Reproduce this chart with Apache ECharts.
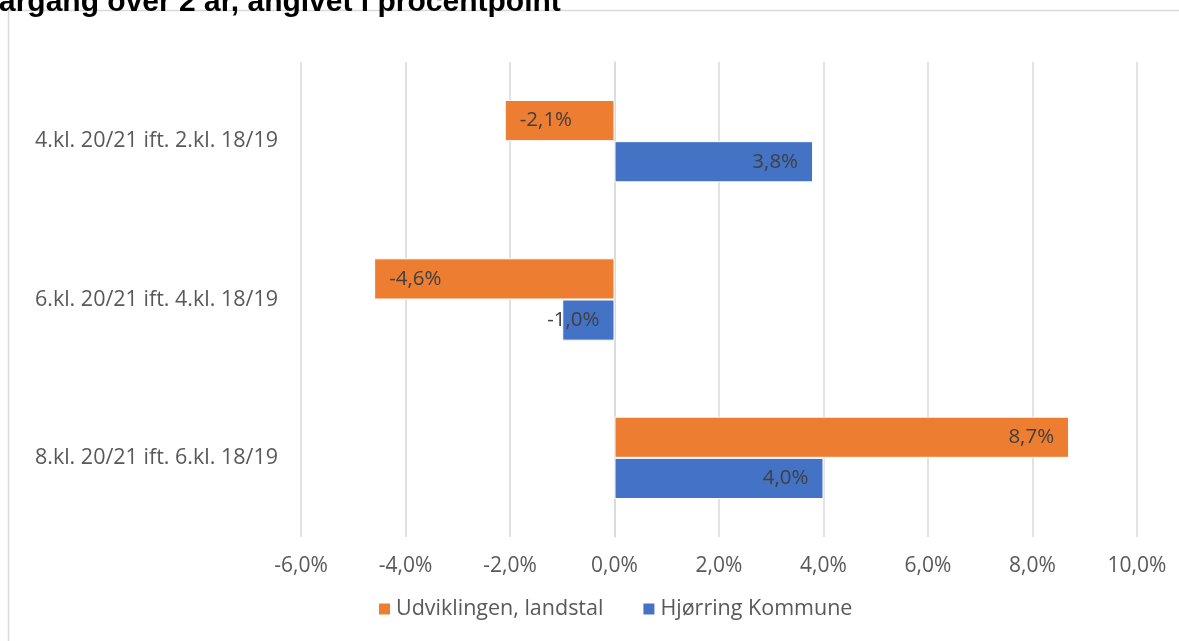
<!DOCTYPE html>
<html><head><meta charset="utf-8">
<script src="https://cdn.jsdelivr.net/npm/echarts@6/dist/echarts.min.js"></script>
<style>html,body{margin:0;padding:0;background:#fff}#c{width:1179px;height:641px}</style>
</head><body><div id="c"></div>
<script>
const titleText = 'årgang over 2 år, angivet i procentpoint';
const categories = ['4.kl. 20/21 ift. 2.kl. 18/19', '6.kl. 20/21 ift. 4.kl. 18/19', '8.kl. 20/21 ift. 6.kl. 18/19'];
const seriesNames = ['Udviklingen, landstal', 'Hjørring Kommune'];
const landstal = [-2.1, -4.6, 8.7];
const hjorring = [3.8, -1.0, 4.0];
const xTicks = { min: -6, max: 10, interval: 2 };

const fmt = v => v.toFixed(1).replace('.', ',') + '%';
const font = '"Open Sans", "Noto Sans", sans-serif';
function mk(vals) {
  return vals.map(v => {
    // Excel "inside end": for very short negative bars the label sits toward zero
    let pos = v < 0 ? 'insideLeft' : 'insideRight';
    if (v < 0 && Math.abs(v) < 1.5) pos = 'insideRight';
    return { value: v, label: { position: pos } };
  });
}
const lbl = { show: true, formatter: p => fmt(p.value), fontFamily: font, fontSize: 20.5, color: '#404040', distance: 15 };
const chart = echarts.init(document.getElementById('c'));
chart.setOption({
  animation: false,
  graphic: [
    { type: 'rect', shape: { x: 8.5, y: 10.5, width: 1300, height: 800 },
      style: { fill: 'none', stroke: '#d9d9d9', lineWidth: 1.5 }, z: -1 },
    { type: 'text', left: -1, top: -12,
      style: { text: titleText, font: 'bold 30px "Liberation Sans", Arial, sans-serif', fill: '#000' } }
  ],
  legend: {
    bottom: 16, left: 372, itemWidth: 13, itemHeight: 13, itemGap: 38,
    icon: 'rect',
    textStyle: { fontFamily: font, fontSize: 21.5, color: '#595959' },
    data: seriesNames
  },
  grid: { left: 301, right: 42, top: 62, bottom: 104 },
  xAxis: {
    type: 'value', min: xTicks.min, max: xTicks.max, interval: xTicks.interval,
    axisLabel: { formatter: v => fmt(v), fontFamily: font, fontSize: 21, color: '#595959', margin: 19 },
    splitLine: { lineStyle: { color: '#d9d9d9', width: 1.5 } },
    axisLine: { show: false }, axisTick: { show: false }
  },
  yAxis: {
    type: 'category', data: categories, inverse: true,
    axisLabel: { fontFamily: font, fontSize: 21.5, color: '#595959', margin: 23 },
    axisLine: { show: true, lineStyle: { color: '#d9d9d9', width: 1.5 }, onZero: true },
    axisTick: { show: false }
  },
  series: [
    { name: seriesNames[0], type: 'bar', data: mk(landstal), barGap: '0%', barCategoryGap: '48%',
      itemStyle: { color: '#ED7D31', borderColor: '#fff', borderWidth: 1 }, label: lbl },
    { name: seriesNames[1], type: 'bar', data: mk(hjorring), barGap: '0%', barCategoryGap: '48%',
      itemStyle: { color: '#4472C4', borderColor: '#fff', borderWidth: 1 }, label: lbl }
  ]
});
</script></body></html>
